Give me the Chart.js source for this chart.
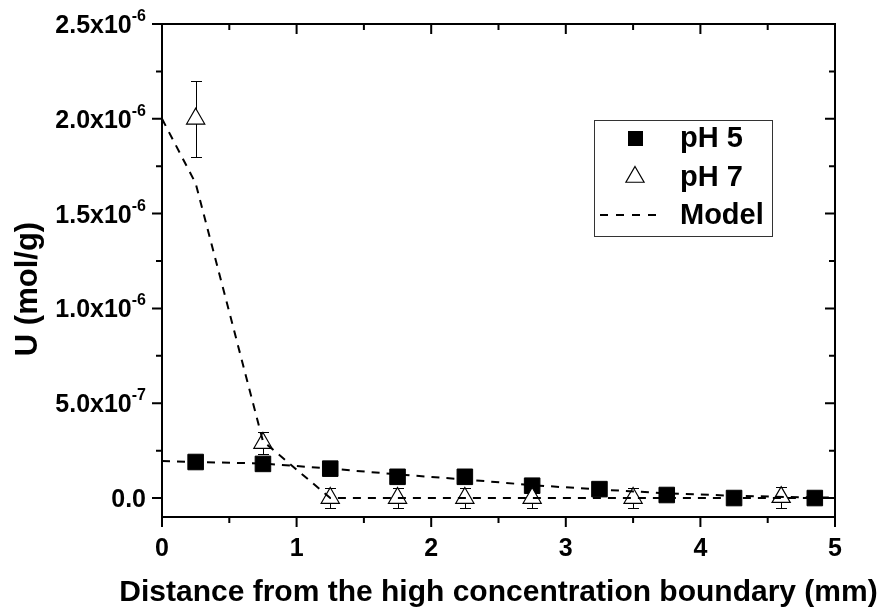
<!DOCTYPE html>
<html>
<head>
<meta charset="utf-8">
<script src="https://cdn.jsdelivr.net/npm/chart.js@4/dist/chart.umd.min.js"></script>
<style>
  html, body { margin: 0; padding: 0; background: #fff; }
  #wrap { width: 880px; height: 612px; }
</style>
</head>
<body>
<div id="wrap"><canvas id="c" width="880" height="612"></canvas></div>
<script>
// ---- data ----
const distancePH5 = [0.25, 0.75, 1.25, 1.75, 2.25, 2.75, 3.25, 3.75, 4.25, 4.85];
const uPH5 = [1.9e-7, 1.8e-7, 1.55e-7, 1.12e-7, 1.12e-7, 6.5e-8, 4.7e-8, 1.6e-8, 0, 0];

const distancePH7 = [0.25, 0.75, 1.25, 1.75, 2.25, 2.75, 3.5, 4.6];
const uPH7 = [2.0e-6, 2.9e-7, 0, 0, 0, 0, 0, 5e-9];
const errPH7 = [2.0e-7, 6e-8, 5.5e-8, 5.5e-8, 5.5e-8, 5.5e-8, 5.5e-8, 5.5e-8];

const modelX = [0, 0.25, 0.75, 1.25, 1.75, 2.25, 2.75, 3.25, 3.75, 4.25, 4.75, 5];
const modelPH5 = [1.95e-7, 1.9e-7, 1.82e-7, 1.55e-7, 1.25e-7, 9.8e-8, 6.8e-8, 4.5e-8, 2.5e-8, 1.2e-8, 4e-9, 2e-9];
const modelPH7 = [2.0e-6, 1.66e-6, 3.0e-7, 0, 0, 0, 0, 0, 0, 0, 0, 0];

const xTickValues = [0, 1, 2, 3, 4, 5];
const xTickLabels = ['0', '1', '2', '3', '4', '5'];
const yTickValues = [0, 5e-7, 1e-6, 1.5e-6, 2e-6, 2.5e-6];
const yTickMantissa = ['0.0', '5.0x10', '1.0x10', '1.5x10', '2.0x10', '2.5x10'];
const yTickExponent = ['', '-7', '-6', '-6', '-6', '-6'];

const xTitle = 'Distance from the high concentration boundary (mm)';
const yTitle = 'U (mol/g)';
const legendLabels = ['pH 5', 'pH 7', 'Model'];

const pts = (xs, ys) => xs.map((x, i) => ({ x: x, y: ys[i] }));
const FONT = '"Liberation Sans", Arial, sans-serif';

const decor = {
  id: 'decor',
  beforeDatasetsDraw(chart) {
    const ctx = chart.ctx, xs = chart.scales.x, ys = chart.scales.y;
    ctx.save();
    ctx.strokeStyle = '#000';
    ctx.lineWidth = 1;
    distancePH7.forEach((d, i) => {
      const px = Math.round(xs.getPixelForValue(d)) + 0.5;
      const yt = Math.round(ys.getPixelForValue(uPH7[i] + errPH7[i])) + 0.5;
      const yb = Math.round(ys.getPixelForValue(uPH7[i] - errPH7[i])) + 0.5;
      ctx.beginPath();
      ctx.moveTo(px, yt); ctx.lineTo(px, yb);
      ctx.moveTo(px - 5.5, yt); ctx.lineTo(px + 5.5, yt);
      ctx.moveTo(px - 5.5, yb); ctx.lineTo(px + 5.5, yb);
      ctx.stroke();
    });
    ctx.restore();
  },
  afterDatasetsDraw(chart) {
    const ctx = chart.ctx, xs = chart.scales.x, ys = chart.scales.y;
    const a = chart.chartArea;
    ctx.save();
    ctx.strokeStyle = '#000';
    ctx.fillStyle = '#000';
    ctx.lineWidth = 2;
    ctx.beginPath();
    ctx.rect(a.left, a.top, a.right - a.left, a.bottom - a.top);
    ctx.stroke();

    // x ticks (major + minor)
    ctx.beginPath();
    for (let v = 0; v <= 5.0001; v += 0.5) {
      const px = xs.getPixelForValue(v);
      const major = Math.abs(v - Math.round(v)) < 1e-6;
      const len = major ? 10 : 6;
      ctx.moveTo(px, a.bottom); ctx.lineTo(px, a.bottom + len);
      ctx.moveTo(px, a.top); ctx.lineTo(px, a.top + len);
    }
    // y ticks
    for (let k = 0; k <= 10; k++) {
      const v = k * 2.5e-7;
      const py = ys.getPixelForValue(v);
      const len = (k % 2 === 0) ? 10 : 6;
      ctx.moveTo(a.left, py); ctx.lineTo(a.left - len, py);
      ctx.moveTo(a.right, py); ctx.lineTo(a.right - len, py);
    }
    ctx.stroke();

    // x tick labels
    ctx.font = 'bold 25px ' + FONT;
    ctx.textAlign = 'center';
    ctx.textBaseline = 'middle';
    xTickValues.forEach((v, i) => {
      ctx.fillText(xTickLabels[i], xs.getPixelForValue(v), a.bottom + 32);
    });

    // y tick labels with superscripts
    const rightEdge = a.left - 16;
    yTickValues.forEach((v, i) => {
      const py = ys.getPixelForValue(v);
      let x = rightEdge;
      if (yTickExponent[i]) {
        ctx.font = 'bold 16px ' + FONT;
        ctx.textAlign = 'right';
        ctx.textBaseline = 'alphabetic';
        ctx.fillText(yTickExponent[i], x, py - 3);
        x -= ctx.measureText(yTickExponent[i]).width;
      }
      ctx.font = 'bold 25px ' + FONT;
      ctx.textAlign = 'right';
      ctx.textBaseline = 'alphabetic';
      ctx.fillText(yTickMantissa[i], x, py + 9);
    });

    // axis titles
    ctx.font = 'bold 30px ' + FONT;
    ctx.textAlign = 'center';
    ctx.textBaseline = 'alphabetic';
    ctx.fillText(xTitle, (a.left + a.right) / 2, 601);
    ctx.save();
    ctx.font = 'bold 31px ' + FONT;
    ctx.translate(37, 289);
    ctx.rotate(-Math.PI / 2);
    ctx.fillText(yTitle, 0, 0);
    ctx.restore();

    // legend box
    const lx = 594, ly = 120, lw = 178, lh = 116;
    ctx.lineWidth = 1;
    ctx.strokeStyle = '#333';
    ctx.fillStyle = '#fff';
    ctx.fillRect(lx, ly, lw, lh);
    ctx.strokeRect(lx + 0.5, ly + 0.5, lw, lh);
    const rows = [138, 177, 215];
    const mx = 635;
    ctx.fillStyle = '#000';
    ctx.strokeStyle = '#000';
    // square
    ctx.fillRect(mx - 7, rows[0] - 7, 15, 15);
    // triangle
    ctx.beginPath();
    const r = 10.5;
    ctx.moveTo(mx, rows[1] - r);
    ctx.lineTo(mx + r * 0.866, rows[1] + r / 2);
    ctx.lineTo(mx - r * 0.866, rows[1] + r / 2);
    ctx.closePath();
    ctx.fillStyle = '#fff';
    ctx.fill();
    ctx.lineWidth = 1.2;
    ctx.stroke();
    // dashed line
    ctx.beginPath();
    ctx.setLineDash([8, 8]);
    ctx.lineWidth = 2;
    ctx.moveTo(600, rows[2]); ctx.lineTo(662, rows[2]);
    ctx.stroke();
    ctx.setLineDash([]);
    ctx.fillStyle = '#000';
    ctx.font = 'bold 29px ' + FONT;
    ctx.textAlign = 'left';
    ctx.textBaseline = 'middle';
    legendLabels.forEach((t, i) => ctx.fillText(t, 680, rows[i] + 1));
    ctx.restore();
  }
};

new Chart(document.getElementById('c'), {
  type: 'scatter',
  data: {
    datasets: [
      {
        label: 'Model pH 7',
        data: pts(modelX, modelPH7),
        showLine: true,
        borderColor: '#000',
        borderWidth: 2,
        borderDash: [8, 7],
        pointRadius: 0,
        fill: false,
        tension: 0
      },
      {
        label: 'Model pH 5',
        data: pts(modelX, modelPH5),
        showLine: true,
        borderColor: '#000',
        borderWidth: 2,
        borderDash: [8, 7],
        pointRadius: 0,
        fill: false,
        tension: 0
      },
      {
        label: 'pH 7',
        data: pts(distancePH7, uPH7),
        pointStyle: 'triangle',
        pointRadius: 10.5,
        backgroundColor: '#fff',
        borderColor: '#000',
        borderWidth: 1.2,
        showLine: false
      },
      {
        label: 'pH 5',
        data: pts(distancePH5, uPH5),
        pointStyle: 'rect',
        pointRadius: 11,
        backgroundColor: '#000',
        borderColor: '#000',
        borderWidth: 1,
        showLine: false
      }
    ]
  },
  options: {
    responsive: false,
    animation: false,
    devicePixelRatio: 1,
    layout: { padding: { left: 162, right: 45, top: 24, bottom: 95 } },
    plugins: { legend: { display: false }, tooltip: { enabled: false } },
    scales: {
      x: { type: 'linear', min: 0, max: 5, display: false },
      y: { type: 'linear', min: -1e-7, max: 2.5e-6, display: false }
    }
  },
  plugins: [decor]
});
</script>
</body>
</html>
